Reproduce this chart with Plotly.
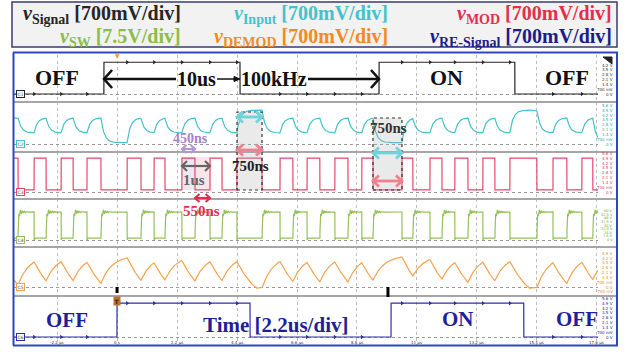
import numpy as np
import plotly.graph_objects as go
from plotly.subplots import make_subplots

W, H = 629, 352
T_START, T_END = -3.78, 17.64          # visible time window, µs

# ---------------- data (time in µs) ----------------
mod_rise = [-3.78, -3.04, -2.05, -1.10, 0.37, 1.36, 2.38, 3.41, 4.40, 5.98, 6.97,
            7.99, 8.98, 10.45, 11.48, 12.39, 13.42, 14.41, 15.99, 17.05]
mod_fall = [-3.63, -2.60, -1.61, -0.59, 0.88, 1.76, 2.86, 3.85, 5.32, 6.45, 7.44,
            8.47, 9.39, 10.85, 11.92, 12.87, 13.86, 15.40, 16.50, 17.45]
signal_on = [-0.48, 9.61]
signal_off = [4.51, 14.59]
resignal_on = [0.00, 10.05]
resignal_off = [4.88, 14.92]

signal_levels = [0.0, 4.6]        # V (low, high)
input_levels = [1.6, 3.8]         # normal low / high plateau
input_long_levels = [0.2, 4.9]    # plateau during the 750 ns phase-shift intervals
mod_levels = [0.3, 4.9]
sw_levels = [4.0, 58.0]
sw_ring = 10.0
demod_targets = [-4.0, 4.6]
demod_floor = -0.15
resignal_levels = [0.0, 4.9]

time_ticks = [-2.2, 0, 2.2, 4.4, 6.6, 8.8, 11, 13.2, 15.4, 17.6]
time_tick_labels = ["-2.2 µs", "0 s", "2.2 µs", "4.4 µs", "6.6 µs", "8.8 µs",
                    "11 µs", "13.2 µs", "15.4 µs", "17.6 µs"]

volt_700_vals = [5.6, 4.9, 4.2, 3.5, 2.8, 2.1, 1.4, 0.7, 0]
volt_700_text = ["5.6 V", "4.9 V", "4.2 V", "3.5 V", "2.8 V", "2.1 V", "1.4 V", "700 mV", "0 V"]
volt_c1_vals = [4.2, 3.5, 2.8, 2.1, 1.4, 0.7, 0]
volt_c1_text = ["4.2 V", "3.5 V", "2.8 V", "2.1 V", "1.4 V", "700 mV", "0 V"]
volt_sw_vals = [60, 52.5, 45, 37.5, 30, 22.5, 15, 7.5, 0]
volt_sw_text = ["60 V", "52.5 V", "45 V", "37.5 V", "30 V", "22.5 V", "15 V", "7.5 V", "0 V"]
volt_c5_vals = [4.9, 4.2, 3.5, 2.8, 2.1, 1.4, 0.7, 0, -0.7]
volt_c5_text = ["4.9 V", "4.2 V", "3.5 V", "2.8 V", "2.1 V", "1.4 V", "700 mV", "0 V", "-700 mV"]

# ---------------- styling / geometry ----------------
COL = dict(sig="#262626", inp="#44c2cc", mod="#e8476a", sw="#93c256",
           dem="#f6a24c", re="#2e2ea6")
# (top px, bottom px, baseline px, px per volt)
bands = [(55, 102, 94, 6.9), (102, 152, 144, 6.9), (152, 199, 192, 6.9),
         (199, 247, 240, 0.483), (247, 296, 287, 6.9), (296, 345, 337, 6.9)]
SERIF = "Liberation Serif"


def px_t(px):
    return (px - 117) * 2.2 / 60


def py_p(py):
    return 1 - py / H


def px_p(px):
    return px / W


# ---------------- waveforms built from the read edges ----------------
t = np.arange(T_START, T_END + 1e-9, 0.004)
dt = t[1] - t[0]


def gate(on, off):
    s = np.zeros(t.size, bool)
    for a, b in zip(on, off):
        s |= (t >= a) & (t < b)
    return s


mod_on = gate(mod_rise, mod_fall)
sig_on = gate(signal_on, signal_off)
re_on = gate(resignal_on, resignal_off)

v_signal = np.where(sig_on, signal_levels[1], signal_levels[0])
v_mod = np.where(mod_on, mod_levels[1], mod_levels[0])
v_re = np.where(re_on, resignal_levels[1], resignal_levels[0])

# plateau target for the input trace: long intervals (phase shifts) go further
edges = sorted([(r, 1) for r in mod_rise] + [(f, 0) for f in mod_fall])
target = np.empty_like(t)
for j, (te, st) in enumerate(edges):
    nxt = edges[j + 1][0] if j + 1 < len(edges) else T_END + 1
    long_iv = (nxt - te) > 0.7
    lv = (input_long_levels if long_iv else input_levels)[st]
    target[(t >= te) & (t < nxt)] = lv

a_in = np.exp(-dt / 0.12)
a_rise = np.exp(-dt / 0.4)
a_fall = np.exp(-dt / 1.0)
x = input_levels[1]
y = 1.0
v_input = np.empty_like(t)
v_dem = np.empty_like(t)
for i, on in enumerate(mod_on):
    x = target[i] + (x - target[i]) * a_in
    v_input[i] = x
    if on:
        y = max(demod_floor, demod_targets[0] + (y - demod_targets[0]) * a_fall)
    else:
        y = demod_targets[1] + (y - demod_targets[1]) * a_rise
    v_dem[i] = y

fa = np.array(mod_fall)
ra = np.array(mod_rise)
i1 = np.searchsorted(fa, t, side="right") - 1
since_fall = np.where(i1 >= 0, t - fa[np.clip(i1, 0, None)], 10.0)
i2 = np.searchsorted(ra, t, side="right") - 1
since_rise = np.where(i2 >= 0, t - ra[np.clip(i2, 0, None)], 10.0)
sw_hi = (sw_levels[0] + (sw_levels[1] - sw_levels[0]) * (1 - np.exp(-since_fall / 0.015))
         + sw_ring * np.exp(-since_fall / 0.12) * np.sin(2 * np.pi * since_fall / 0.07))
sw_lo = sw_levels[0] - 4.0 * np.exp(-since_rise / 0.01)
v_sw = np.where(mod_on, sw_lo, sw_hi)

# ---------------- figure ----------------
fig = make_subplots(rows=6, cols=1, shared_xaxes=True, vertical_spacing=0)

series = [(v_signal, COL["sig"]), (v_input, COL["inp"]), (v_mod, COL["mod"]),
          (v_sw, COL["sw"]), (v_dem, COL["dem"]), (v_re, COL["re"])]
for r, (v, c) in enumerate(series, start=1):
    fig.add_trace(go.Scatter(x=t, y=v, mode="lines", line=dict(color=c, width=1.2),
                             hoverinfo="skip"), row=r, col=1)

# edge markers on signal / re-signal traces
mk_t = [r for r in mod_rise if T_START + 0.2 < r < T_END - 0.1]
mk_sig = [signal_levels[1] if any(a <= r < b for a, b in zip(signal_on, signal_off))
          else signal_levels[0] for r in mk_t]
mk_re = [resignal_levels[1] if any(a <= r < b for a, b in zip(resignal_on, resignal_off))
         else resignal_levels[0] for r in mk_t]
fig.add_trace(go.Scatter(x=mk_t, y=mk_sig, mode="markers", hoverinfo="skip",
                         marker=dict(symbol="triangle-right", size=4, color=COL["sig"])),
              row=1, col=1)
fig.add_trace(go.Scatter(x=mk_t, y=mk_re, mode="markers", hoverinfo="skip",
                         marker=dict(symbol="triangle-right", size=4, color=COL["re"])),
              row=6, col=1)

layout = dict(width=W, height=H, margin=dict(l=0, r=0, t=0, b=0),
              paper_bgcolor="white", plot_bgcolor="white", showlegend=False)
for r, (top, bot, base, k) in enumerate(bands, start=1):
    sx = "" if r == 1 else str(r)
    layout["xaxis" + sx] = dict(domain=[px_p(14), px_p(598)], range=[T_START, T_END],
                                tickvals=time_ticks, showticklabels=False, showgrid=True,
                                griddash="dot", gridcolor="#bdbdbd", gridwidth=1,
                                zeroline=False, showline=False, ticks="")
    layout["yaxis" + sx] = dict(domain=[py_p(bot), py_p(top)],
                                range=[-(bot - base) / k, (base - top) / k],
                                tickvals=[0], showticklabels=False, showgrid=True,
                                griddash="dot", gridcolor="#9a9a9a", gridwidth=1,
                                zeroline=False, showline=False, ticks="")
fig.update_layout(**layout)

shapes = []
# header box
shapes.append(dict(type="rect", xref="paper", yref="paper", x0=px_p(12), x1=px_p(617),
                   y0=py_p(47), y1=py_p(2), line=dict(color="#3c3c6e", width=1.5),
                   fillcolor="#f2f2f2", layer="below"))
# band separators
for sep in [102, 152, 199, 247, 296]:
    shapes.append(dict(type="line", xref="paper", yref="paper", x0=px_p(14), x1=px_p(617),
                       y0=py_p(sep), y1=py_p(sep), line=dict(color="#a6a6a6", width=2)))
# scope frame
fr = dict(color="#3046c0", width=2)
shapes += [
    dict(type="line", xref="paper", yref="paper", x0=px_p(13), x1=px_p(618), y0=py_p(52.5), y1=py_p(52.5), line=fr),
    dict(type="line", xref="paper", yref="paper", x0=px_p(13), x1=px_p(618), y0=py_p(345.5), y1=py_p(345.5), line=fr),
    dict(type="line", xref="paper", yref="paper", x0=px_p(13.5), x1=px_p(13.5), y0=py_p(52.5), y1=py_p(345.5), line=fr),
    dict(type="line", xref="paper", yref="paper", x0=px_p(617), x1=px_p(617), y0=py_p(52.5), y1=py_p(345.5), line=fr),
]
# small black icon at top right
shapes.append(dict(type="path", xref="paper", yref="paper", fillcolor="#222222",
                   line=dict(color="#222222", width=1),
                   path="M %f,%f L %f,%f L %f,%f Z" % (px_p(603), py_p(57), px_p(612), py_p(57),
                                                       px_p(612), py_p(64))))
# shaded measurement boxes
shapes.append(dict(type="rect", xref="x", yref="paper", x0=px_t(182), x1=px_t(195),
                   y0=py_p(190), y1=py_p(157), line=dict(width=0),
                   fillcolor="rgba(190,180,210,0.30)", layer="below"))
shapes.append(dict(type="rect", xref="x", yref="paper", x0=px_t(195), x1=px_t(210),
                   y0=py_p(190), y1=py_p(157), line=dict(width=0),
                   fillcolor="rgba(240,170,185,0.30)", layer="below"))
for x0, x1, ytop in [(237, 262, 112), (373, 402, 118)]:
    shapes.append(dict(type="rect", xref="x", yref="paper", x0=px_t(x0), x1=px_t(x1),
                       y0=py_p(190), y1=py_p(ytop), line=dict(color="#333333", width=1.2, dash="dot"),
                       fillcolor="rgba(170,170,170,0.25)"))
# trigger bars
shapes.append(dict(type="line", xref="x", yref="paper", x0=px_t(117), x1=px_t(117),
                   y0=py_p(293), y1=py_p(287), line=dict(color="black", width=3)))
shapes.append(dict(type="line", xref="x", yref="paper", x0=px_t(388), x1=px_t(388),
                   y0=py_p(297), y1=py_p(287), line=dict(color="black", width=3)))


def chevron(xh, ypx, d, hx, hy, color, width):
    """open arrow head at pixel xh pointing in direction d (+1 right, -1 left)"""
    p = "M %f,%f L %f,%f L %f,%f" % (px_t(xh - d * hx), py_p(ypx - hy), px_t(xh), py_p(ypx),
                                     px_t(xh - d * hx), py_p(ypx + hy))
    shapes.append(dict(type="path", xref="x", yref="paper", path=p,
                       line=dict(color=color, width=width)))


def arrow(x0, x1, ypx, color, width, heads=("start", "end"), hx=6, hy=5):
    shapes.append(dict(type="line", xref="x", yref="paper", x0=px_t(x0), x1=px_t(x1),
                       y0=py_p(ypx), y1=py_p(ypx), line=dict(color=color, width=width)))
    if "start" in heads:
        chevron(x0, ypx, -1, hx, hy, color, width)
    if "end" in heads:
        chevron(x1, ypx, 1, hx, hy, color, width)


# big black arrows
arrow(104, 176, 79, "#111111", 2.6, heads=("start",), hx=8, hy=9)
arrow(308, 379, 79, "#111111", 2.6, heads=("end",), hx=8, hy=9)
arrow(217, 237, 79, "#111111", 1.5, heads=(), hx=0, hy=0)
shapes.append(dict(type="path", xref="x", yref="paper", fillcolor="#111111",
                   line=dict(color="#111111", width=1),
                   path="M %f,%f L %f,%f L %f,%f Z" % (px_t(234), py_p(76.5), px_t(240), py_p(79),
                                                       px_t(234), py_p(81.5))))
# measurement arrows
arrow(182, 195, 149, "#b792d6", 2.2, hx=4.5, hy=4)
arrow(182, 210, 166, "#666666", 2.2, hx=5, hy=5)
arrow(195, 210, 198, "#e03050", 2.2, hx=4.5, hy=4)
arrow(237, 262, 117, "#6fd3da", 2.8, hx=6, hy=5.5)
arrow(237, 262, 150, "#ee8090", 2.8, hx=6, hy=5.5)
arrow(373, 402, 153, "#6fd3da", 2.8, hx=6, hy=5.5)
arrow(373, 402, 181, "#ee8090", 2.8, hx=6, hy=5.5)
fig.update_layout(shapes=shapes)

ann = []


def txt(text, xpx, ypx, size, color, xanchor="center", bold=True, family=SERIF, **kw):
    ann.append(dict(text=("<b>%s</b>" % text) if bold else text, x=px_p(xpx), y=py_p(ypx),
                    xref="paper", yref="paper", showarrow=False, xanchor=xanchor,
                    yanchor="middle", font=dict(family=family, size=size, color=color), **kw))


# header legend
hdr = [("Signal", "[700mV/div]", 183, 15, COL["sig"]),
       ("Input", "[700mV/div]", 390, 15, COL["inp"]),
       ("MOD", "[700mV/div]", 614, 15, "#e0304c"),
       ("SW", "[7.5V/div]", 183, 37, "#8cbd4a"),
       ("DEMOD", "[700mV/div]", 390, 37, "#f28a22"),
       ("RE-Signal", "[700mV/div]", 614, 37, "#1c1c8c")]
for sub, scale, xr, yr, c in hdr:
    txt("<i>v</i><sub>%s</sub> %s" % (sub, scale), xr, yr, 20, c, xanchor="right")

# big labels
txt("OFF", 57, 77, 22, "#111111")
txt("ON", 447, 77, 22, "#111111")
txt("OFF", 567, 77, 22, "#111111")
txt("10us", 196, 79, 20, "#111111")
txt("100kHz", 274, 79, 20, "#111111")

txt("OFF", 67, 320, 21, "#1f1f9a")
txt("Time [2.2us/div]", 275, 325, 21, "#1f1f9a")
txt("ON", 458, 319, 21, "#1f1f9a")
txt("OFF", 577, 319, 21, "#1f1f9a")

# measurement labels
txt("450ns", 190, 138, 14, "#a682c8")
txt("1us", 194, 180, 15, "#666666")
txt("550ns", 201, 211, 15, "#e03050")
txt("750ns", 250, 166, 15, "#222222")
txt("750ns", 388, 128, 15, "#333333")

# trigger marker and top marker
txt("T", 117, 301, 6, "#222222", bgcolor="#c0702a", borderpad=0.5, family="DejaVu Sans")
txt("\u25BC", 117, 56, 6, "#f39a33", bold=False, family="DejaVu Sans")

# channel badges
badge_cols = [COL["sig"], COL["inp"], COL["mod"], COL["sw"], COL["dem"], COL["re"]]
for i, (top, bot, base, k) in enumerate(bands):
    txt("C%d" % (i + 1), 16, base, 4.5, "#444444", xanchor="left", bold=False,
        family="DejaVu Sans", bgcolor="white", bordercolor=badge_cols[i],
        borderwidth=1, borderpad=0.5)

# right-hand volt labels
vlabels = [(volt_c1_vals, volt_c1_text), (volt_700_vals, volt_700_text),
           (volt_700_vals, volt_700_text), (volt_sw_vals, volt_sw_text),
           (volt_c5_vals, volt_c5_text), (volt_700_vals, volt_700_text)]
vcols = ["#333333", "#2aa8b0", "#d8345a", "#6f9e35", "#e88a30", "#222299"]
for i, ((vals, texts), (top, bot, base, k)) in enumerate(zip(vlabels, bands)):
    fs = 3.5 if i == 3 else 4
    for v, s in zip(vals, texts):
        txt(s, 615, base - v * k, fs, vcols[i], xanchor="right", bold=False,
            family="DejaVu Sans")

# time tick labels
for tv, s in zip(time_ticks, time_tick_labels):
    ann.append(dict(text=s, x=tv, y=py_p(342), xref="x", yref="paper", showarrow=False,
                    xanchor="center", yanchor="middle",
                    font=dict(family="DejaVu Sans", size=4, color="#333333")))

fig.update_layout(annotations=ann)
fig.write_html("out.html", config={"displayModeBar": False},
               post_script="document.body.style.margin='0px';")
